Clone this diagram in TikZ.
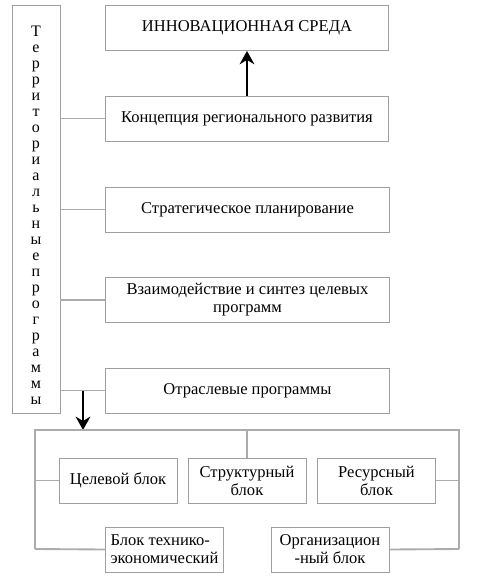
\documentclass[tikz,border=0pt]{standalone}
\usepackage{fontspec}
\setmainfont{Liberation Serif}
\usetikzlibrary{arrows.meta}
\tikzset{
  blok/.style={draw=gray!75, line width=0.6pt, rectangle, inner sep=1pt,
    minimum width=88.5pt, minimum height=33.75pt, align=center,
    font=\fontsize{12.4}{13.5}\selectfont},
  wide/.style={blok, minimum width=212.5pt},
  svyaz/.style={draw=gray!65, line width=1.4pt},
  strelka/.style={draw=black, line width=2.2pt, -{Stealth[length=10pt,width=11pt]}}
}
\begin{document}
\begin{tikzpicture}[x=0.75pt,y=-0.75pt]
\useasboundingbox (0,0) rectangle (478,587);
% vertical box on the left
\node[blok, minimum width=36pt, minimum height=306pt] (terr) at (36,209) {};
\node[align=center, inner sep=0pt, font=\fontsize{12}{12}\selectfont] (terrtekst) at (36,215)
  {Т\\е\\р\\р\\и\\т\\о\\р\\и\\а\\л\\ь\\н\\ы\\е\\п\\р\\о\\г\\р\\а\\м\\м\\ы};
% column of wide boxes
\node[wide] (sreda) at (247,28) {ИННОВАЦИОННАЯ СРЕДА};
\node[wide] (konc) at (247,118.5) {Концепция регионального развития};
\node[wide] (strat) at (247.5,209.5) {Стратегическое планирование};
\node[wide] (vzaim) at (247.5,300) {Взаимодействие и синтез целевых\\программ};
\node[wide] (otrasl) at (247.5,390.5) {Отраслевые программы};
% lower blocks
\node[blok] (cel) at (118,480.5) {Целевой блок};
\node[blok] (strukt) at (247,480.5) {Структурный\\блок};
\node[blok] (resurs) at (376.5,480.5) {Ресурсный\\блок};
\node[blok, align=left] (tehn) at (164.5,549.5) {Блок технико-\\экономический};
\node[blok] (org) at (330,549.5) {Организацион\\-ный блок};
% frame round the lower blocks
\coordinate (ramka1) at (35,430);
\coordinate (ramka2) at (459,430);
\coordinate (ramka3) at (35,549);
\coordinate (ramka4) at (459,549);
\coordinate (otvod) at (83,391);
\coordinate (vhod) at (83,430);
% links from the left box
\foreach \b in {konc,strat,vzaim,otrasl}
  \draw[svyaz] (terr.east |- \b.west) -- (\b.west);
\draw[strelka] (konc.north) -- (sreda.south);
\draw[strelka] (otvod) -- (vhod);
\draw[svyaz] (ramka3) -- (ramka1) -- (ramka2) -- (ramka4);
\draw[svyaz] (ramka1 |- cel.west) -- (cel.west);
\draw[svyaz] (resurs.east) -- (ramka2 |- resurs.east);
\draw[svyaz] (ramka1 -| strukt.north) -- (strukt.north);
\draw[svyaz] (ramka3) -- (tehn.west);
\draw[svyaz] (org.east) -- (ramka4);
\end{tikzpicture}
\end{document}
